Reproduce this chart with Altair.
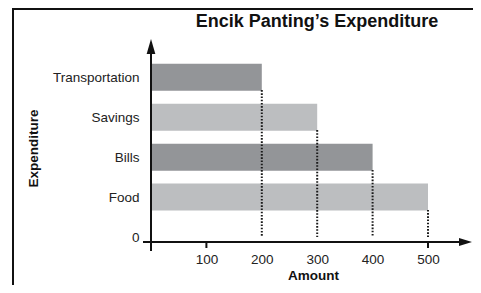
import json
import altair as alt
import pandas as pd

# ---- data ----
categories = ["Food", "Bills", "Savings", "Transportation"]
amounts = [500, 400, 300, 200]
bar_colors = ["#bcbec0", "#939598", "#bcbec0", "#939598"]
x_tick_values = [100, 200, 300, 400, 500]
tick_marks = [100, 500]
title_text = "Encik Panting\u2019s Expenditure"

FONT = "Liberation Sans"
W, H = 321, 203
PX_PER_UNIT_X = 0.554
X_MAX = W / PX_PER_UNIT_X
Y_MAX = 4.833
BAR_PX = 27
UNIT_PX = H / Y_MAX

df = pd.DataFrame({
    "category": categories,
    "amount": amounts,
    "pos": list(range(1, len(categories) + 1)),
})

x_scale = alt.Scale(domain=[0, X_MAX], nice=False, zero=True)
y_scale = alt.Scale(domain=[0, Y_MAX], nice=False, zero=True)

label_list = json.dumps(["0"] + categories)
label_expr = f"{label_list}[datum.value]"

x_axis = alt.Axis(values=x_tick_values, title="Amount", grid=False,
                  domain=False, ticks=False,
                  labelPadding=10, labelFontSize=13.5,
                  titleFontSize=13.5, titleFontWeight="bold",
                  titleX=162, titleY=33, titleBaseline="middle",
                  titleAlign="center")
y_axis = alt.Axis(values=[0, 1, 2, 3, 4], labelExpr=label_expr,
                  title="Expenditure", grid=False, domain=False,
                  ticks=False, labelPadding=12,
                  labelFontSize=13.5, titleFontSize=13.5,
                  titleFontWeight="bold", titleAngle=270,
                  titleX=-118, titleY=109, titleAlign="center",
                  titleBaseline="middle")

bars = alt.Chart(df).mark_bar(orient="horizontal", size=BAR_PX).encode(
    x=alt.X("amount:Q", scale=x_scale, axis=x_axis),
    y=alt.Y("pos:Q", scale=y_scale, axis=y_axis),
    color=alt.Color("category:N",
                    scale=alt.Scale(domain=categories, range=bar_colors),
                    legend=None),
)

dotted = alt.Chart(df).transform_calculate(
    bottom=f"datum.pos - {BAR_PX / 2 / UNIT_PX}"
).mark_rule(strokeDash=[1.6, 1.6], strokeWidth=2, color="#1a1a1a").encode(
    x=alt.X("amount:Q", scale=x_scale, axis=x_axis),
    y=alt.Y("bottom:Q", scale=y_scale, axis=y_axis),
    y2=alt.datum(0),
)

one = pd.DataFrame({"a": [0]})

x_axis_line = alt.Chart(one).mark_rule(strokeWidth=2, color="#111").encode(
    x=alt.value(-8), x2=alt.value(W - 12), y=alt.value(H)
)
y_axis_line = alt.Chart(one).mark_rule(strokeWidth=2, color="#111").encode(
    x=alt.value(0), y=alt.value(10), y2=alt.value(H + 9)
)
x_arrow = alt.Chart(one).mark_point(
    shape="M-1,-0.6L1,0L-1,0.6Z", filled=True, size=169, color="#111", opacity=1
).encode(x=alt.value(W - 6.5), y=alt.value(H))
y_arrow = alt.Chart(one).mark_point(
    shape="M0,-1L0.58,1L-0.58,1Z", filled=True, size=225, color="#111", opacity=1
).encode(x=alt.value(0), y=alt.value(7.5))

ticks = alt.Chart(pd.DataFrame({"amount": tick_marks})).mark_rule(
    strokeWidth=2, color="#111"
).encode(
    x=alt.X("amount:Q", scale=x_scale, axis=x_axis),
    y=alt.value(H), y2=alt.value(H + 6),
)

title = alt.Chart(one).mark_text(
    text=title_text, font=FONT, fontSize=18, fontWeight="bold",
    align="center", baseline="alphabetic", color="#111"
).encode(x=alt.value(166), y=alt.value(-12))

border = alt.Chart(one).mark_rect(
    filled=False, stroke="#111", strokeWidth=2
).encode(x=alt.value(-138), x2=alt.value(420), y=alt.value(-30), y2=alt.value(400))

chart = alt.layer(
    border, bars, dotted, ticks, x_axis_line, y_axis_line, x_arrow, y_arrow, title
).properties(
    width=W, height=H,
    autosize=alt.AutoSizeParams(type="none"),
    padding={"left": 143, "top": 31, "right": 1, "bottom": 43},
).configure_view(stroke=None).configure_axis(
    labelFont=FONT, titleFont=FONT, labelColor="#222", titleColor="#111"
)

chart.save("out.html", embed_options={"renderer": "svg", "actions": False})
